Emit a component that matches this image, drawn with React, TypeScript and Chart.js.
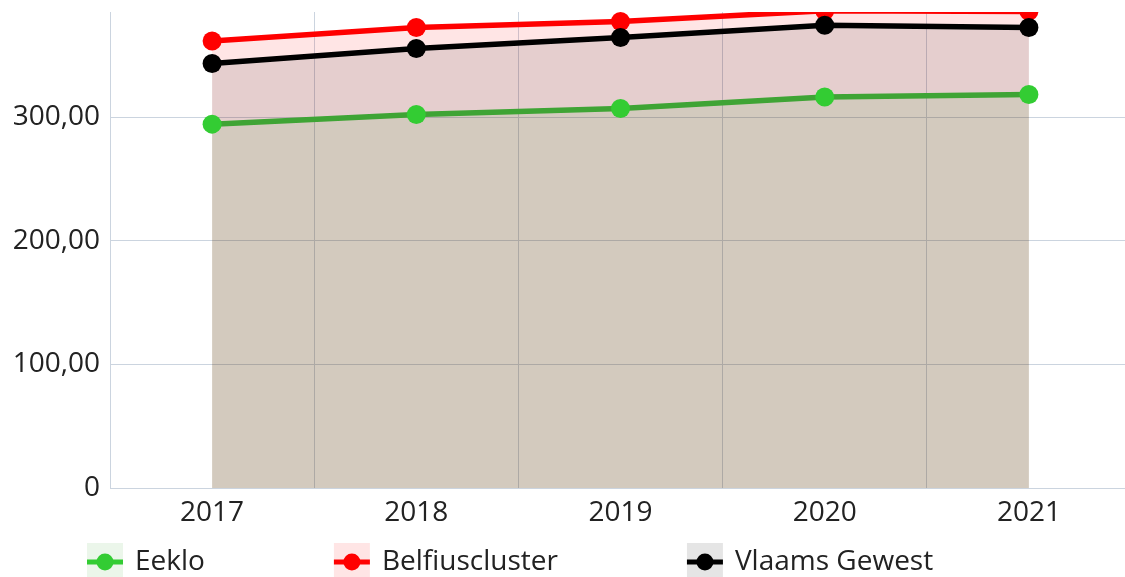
import React, { useEffect, useRef } from "react";
import { Chart, registerables } from "chart.js";

Chart.register(...registerables);

const years = ["2017", "2018", "2019", "2020", "2021"];
const eeklo = [294.3, 302.1, 307.0, 316.3, 318.3];
const belfius = [361.6, 372.4, 377.3, 386.0, 385.5];
const vlaams = [343.3, 355.5, 364.4, 374.3, 372.4];
const yTicks = [0, 100, 200, 300];
const yMax = 385;

const FONT = "'Open Sans', 'Noto Sans', sans-serif";
const TEXT = "#222222";
const GRID = "#cbd4df";

const seriesNames = ["Eeklo", "Belfiuscluster", "Vlaams Gewest"];
const drawOrder = [0, 2, 1];
const lineColors = ["#3fa435", "#ff0000", "#000000"];
const pointColors = ["#33cc33", "#ff0000", "#000000"];
const fillColors = ["rgba(60,170,50,0.1)", "rgba(255,0,0,0.1)", "rgba(0,0,0,0.1)"];

const legendPlugin = {
  id: "customLegend",
  afterDraw(chart: any) {
    const ctx = chart.ctx;
    ctx.save();
    ctx.font = `28px ${FONT}`;
    ctx.textBaseline = "middle";
    ctx.textAlign = "left";
    const cy = 562;
    let x = 87;
    const boxW = 36;
    chart.data.datasets.forEach((ds: any, i: number) => {
      ctx.fillStyle = fillColors[i];
      ctx.fillRect(x, cy - 19, boxW, 36);
      ctx.strokeStyle = pointColors[i];
      ctx.lineWidth = 5;
      ctx.beginPath();
      ctx.moveTo(x, cy);
      ctx.lineTo(x + boxW, cy);
      ctx.stroke();
      ctx.fillStyle = pointColors[i];
      ctx.beginPath();
      ctx.arc(x + boxW / 2, cy, 8.5, 0, Math.PI * 2);
      ctx.fill();
      ctx.fillStyle = TEXT;
      const tx = x + boxW + 12;
      ctx.fillText(ds.label, tx, cy);
      x = tx + ctx.measureText(ds.label).width + 129;
    });
    ctx.restore();
  },
};

export default function App() {
  const ref = useRef<HTMLCanvasElement>(null);
  useEffect(() => {
    document.body.style.margin = "0";
    document.body.style.overflow = "hidden";
    document.documentElement.style.overflow = "hidden";
    const values = [eeklo, belfius, vlaams];
    const chart = new Chart(ref.current!, {
      type: "line",
      data: {
        labels: years,
        datasets: values.map((v, i) => ({
          label: seriesNames[i],
          data: v,
          order: drawOrder[i],
          borderColor: lineColors[i],
          backgroundColor: fillColors[i],
          pointBackgroundColor: pointColors[i],
          pointBorderColor: pointColors[i],
          pointBorderWidth: 0,
          pointRadius: 9.5,
          borderWidth: 5.5,
          fill: "origin",
          tension: 0,
        })),
      },
      options: {
        responsive: false,
        animation: false,
        layout: { autoPadding: false, padding: { top: 12, right: 0, bottom: 47, left: 0 } },
        plugins: {
          legend: { display: false },
          tooltip: { enabled: false },
          filler: { drawTime: "beforeDatasetsDraw" },
        },
        scales: {
          x: {
            type: "category",
            offset: true,
            grid: { offset: true, color: GRID, lineWidth: 1, drawTicks: false },
            border: { color: GRID },
            ticks: {
              color: TEXT,
              font: { family: FONT, size: 28 },
              padding: 8,
              maxRotation: 0,
            },
            afterFit(scale: any) {
              scale.height = 42;
              scale.paddingLeft = 0;
              scale.paddingRight = 0;
            },
          },
          y: {
            min: 0,
            max: yMax,
            ticks: {
              stepSize: 100,
              color: TEXT,
              font: { family: FONT, size: 28 },
              padding: 10,
              callback: (v: any) => (v === 0 ? "0" : Number(v).toFixed(2).replace(".", ",")),
            },
            afterBuildTicks(scale: any) {
              scale.ticks = yTicks.map((value) => ({ value }));
            },
            afterFit(scale: any) {
              scale.width = 110;
              scale.paddingTop = 0;
              scale.paddingBottom = 0;
            },
            grid: { color: GRID, lineWidth: 1, drawTicks: false },
            border: { color: GRID },
          },
        },
      },
      plugins: [legendPlugin],
    });
    return () => chart.destroy();
  }, []);
  return (
    <div style={{ width: 1131, height: 577 }}>
      <canvas ref={ref} width={1131} height={577} style={{ display: "block" }} />
    </div>
  );
}
